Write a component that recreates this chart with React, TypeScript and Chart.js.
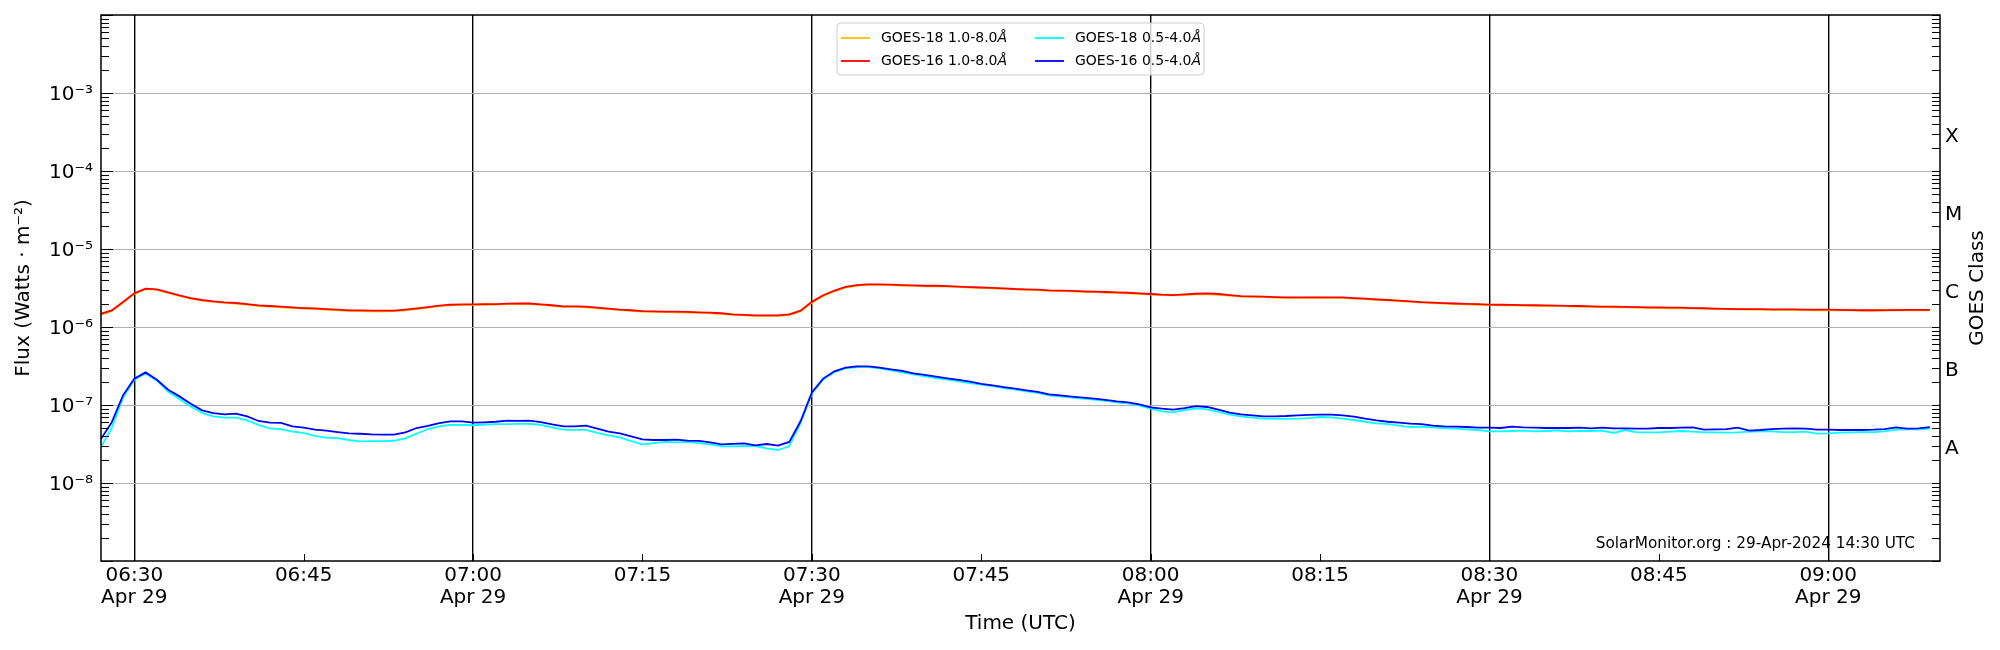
import React, { useEffect, useRef } from 'react';
import { Chart, registerables } from 'chart.js';

Chart.register(...registerables);

// GOES X-ray flux, 1-minute cadence, minutes after 06:30 UTC on 29 Apr 2024 (06:27 .. 09:09)
const FIRST_MINUTE = -3;
const minutes = Array.from({ length: 163 }, (_, i) => FIRST_MINUTE + i);

// long channel 1.0-8.0 Å, units of 1e-6 W/m²
const goes16Long = [
  1.47, 1.63, 2.09, 2.70, 3.10, 3.03, 2.78, 2.54, 2.35, 2.22, 2.13, 2.07, 2.03, 1.97, 1.89, 1.86, 1.82,
  1.78, 1.75, 1.73, 1.70, 1.67, 1.63, 1.63, 1.62, 1.62, 1.62, 1.67, 1.73, 1.80, 1.88, 1.93, 1.95,
  1.95, 1.96, 1.97, 1.99, 2.00, 2.00,
  1.95, 1.90, 1.84, 1.84, 1.82, 1.77, 1.72, 1.67, 1.64, 1.60, 1.59, 1.57, 1.57, 1.56, 1.54, 1.53, 1.50,
  1.45, 1.43, 1.41, 1.41, 1.41, 1.45, 1.62, 2.10, 2.55, 2.92, 3.26, 3.45, 3.52, 3.52, 3.49, 3.45, 3.42,
  3.38, 3.38, 3.34, 3.30, 3.25,
  3.21, 3.17, 3.13, 3.07, 3.04, 3.01, 2.95, 2.92, 2.90, 2.87, 2.84, 2.81, 2.78, 2.75, 2.70, 2.65, 2.60,
  2.57, 2.62, 2.67, 2.70, 2.65, 2.57, 2.49, 2.47, 2.45, 2.42, 2.40, 2.40, 2.40, 2.40, 2.40, 2.40, 2.35,
  2.31, 2.26, 2.22, 2.18, 2.13,
  2.08, 2.05, 2.02, 2.00, 1.98, 1.96, 1.94, 1.93, 1.92, 1.91, 1.90, 1.89, 1.88, 1.87, 1.86, 1.84, 1.83,
  1.82, 1.81, 1.80, 1.79, 1.78, 1.77, 1.77, 1.75, 1.74, 1.72, 1.71, 1.70, 1.69, 1.69, 1.68, 1.68, 1.68,
  1.67, 1.67, 1.67, 1.66, 1.65, 1.64, 1.64, 1.65, 1.65, 1.66, 1.66, 1.66,
];

const goes18Long = [
  1.44, 1.60, 2.05, 2.66, 3.05, 2.99, 2.74, 2.50, 2.31, 2.18, 2.10, 2.04, 2.00, 1.94, 1.86, 1.83, 1.79,
  1.75, 1.72, 1.70, 1.67, 1.64, 1.61, 1.60, 1.59, 1.59, 1.60, 1.64, 1.70, 1.77, 1.85, 1.90, 1.92,
  1.92, 1.93, 1.94, 1.96, 1.97, 1.97,
  1.92, 1.87, 1.81, 1.81, 1.79, 1.74, 1.69, 1.65, 1.61, 1.58, 1.56, 1.55, 1.54, 1.53, 1.52, 1.50, 1.47,
  1.43, 1.41, 1.39, 1.39, 1.39, 1.42, 1.58, 2.05, 2.50, 2.87, 3.21, 3.40, 3.47, 3.47, 3.44, 3.40, 3.37,
  3.33, 3.33, 3.30, 3.26, 3.21,
  3.17, 3.13, 3.09, 3.03, 3.00, 2.97, 2.91, 2.88, 2.86, 2.83, 2.80, 2.77, 2.74, 2.71, 2.66, 2.61, 2.56,
  2.54, 2.57, 2.63, 2.63, 2.59, 2.53, 2.45, 2.43, 2.41, 2.38, 2.36, 2.36, 2.37, 2.37, 2.36, 2.36, 2.32,
  2.28, 2.23, 2.19, 2.15, 2.10,
  2.05, 2.02, 1.99, 1.97, 1.95, 1.93, 1.91, 1.90, 1.89, 1.88, 1.87, 1.86, 1.85, 1.84, 1.83, 1.81, 1.80,
  1.79, 1.78, 1.77, 1.76, 1.75, 1.74, 1.74, 1.73, 1.72, 1.70, 1.69, 1.68, 1.67, 1.67, 1.66, 1.66, 1.65,
  1.65, 1.64, 1.64, 1.63, 1.63, 1.62, 1.62, 1.62, 1.63, 1.63, 1.64, 1.64,
];

// short channel 0.5-4.0 Å, units of 1e-8 W/m²
const goes16Short = [
  3.59, 5.98, 13.3, 21.7, 26.2, 21.1, 15.7, 12.9, 10.4, 8.54, 7.89, 7.58, 7.75, 7.15, 6.24, 5.93, 5.90,
  5.32, 5.12, 4.82, 4.68, 4.50, 4.32, 4.28, 4.20, 4.17, 4.17, 4.47, 5.07, 5.40, 5.87, 6.15, 6.15,
  5.93, 6.00, 6.10, 6.30, 6.27, 6.30,
  6.05, 5.65, 5.33, 5.33, 5.43, 4.98, 4.55, 4.33, 3.96, 3.63, 3.56, 3.56, 3.60, 3.49, 3.46, 3.32, 3.13,
  3.18, 3.22, 3.04, 3.16, 3.02, 3.36, 6.18, 14.5, 21.8, 27.0, 30.1, 31.3, 31.3, 30.1, 28.6, 27.3, 25.5,
  24.3, 23.1, 22.0, 21.0, 19.9,
  18.6, 17.9, 17.0, 16.2, 15.4, 14.7, 13.7, 13.3, 12.8, 12.4, 12.1, 11.6, 11.1, 10.8, 10.2, 9.33, 8.97,
  8.71, 9.14, 9.70, 9.43, 8.71, 7.98, 7.60, 7.38, 7.16, 7.16, 7.23, 7.38, 7.45, 7.53, 7.53, 7.38, 7.09,
  6.68, 6.35, 6.10, 5.93, 5.77,
  5.70, 5.43, 5.32, 5.27, 5.22, 5.12, 5.12, 5.07, 5.27, 5.16, 5.12, 5.07, 5.07, 5.07, 5.12, 5.02, 5.12,
  5.02, 5.02, 4.98, 4.98, 5.07, 5.07, 5.12, 5.16, 4.83, 4.88, 4.92, 5.12, 4.69, 4.78, 4.92, 4.98, 5.02,
  4.98, 4.83, 4.83, 4.78, 4.78, 4.78, 4.83, 4.92, 5.16, 4.98, 5.02, 5.22,
];

const goes18Short = [
  2.81, 5.07, 12.3, 21.1, 25.4, 20.5, 14.9, 11.9, 9.60, 7.89, 7.15, 6.87, 6.87, 6.35, 5.55, 5.01, 4.90,
  4.55, 4.40, 4.03, 3.81, 3.75, 3.56, 3.42, 3.45, 3.45, 3.48, 3.73, 4.28, 4.92, 5.32, 5.55, 5.55,
  5.50, 5.60, 5.67, 5.70, 5.72, 5.75,
  5.55, 5.18, 4.83, 4.80, 4.80, 4.38, 4.08, 3.85, 3.45, 3.13, 3.24, 3.36, 3.32, 3.36, 3.24, 3.13, 2.95,
  2.95, 2.98, 2.98, 2.78, 2.65, 2.95, 5.87, 14.0, 21.3, 26.3, 29.6, 30.7, 30.7, 29.6, 27.9, 26.3, 24.7,
  23.3, 22.2, 21.2, 20.1, 19.1,
  18.2, 17.5, 16.5, 15.7, 15.0, 14.3, 13.3, 12.9, 12.4, 12.1, 11.7, 11.3, 10.8, 10.5, 9.88, 8.97, 8.30,
  8.06, 8.58, 9.05, 8.79, 8.14, 7.53, 7.16, 6.90, 6.68, 6.62, 6.62, 6.68, 6.80, 7.02, 6.95, 6.68, 6.42,
  6.10, 5.80, 5.67, 5.43, 5.22,
  5.27, 5.16, 5.07, 4.98, 4.88, 4.78, 4.59, 4.59, 4.64, 4.69, 4.59, 4.64, 4.73, 4.59, 4.64, 4.64, 4.69,
  4.38, 4.78, 4.50, 4.46, 4.46, 4.55, 4.64, 4.55, 4.46, 4.46, 4.42, 4.46, 4.55, 4.59, 4.59, 4.50, 4.50,
  4.55, 4.29, 4.33, 4.42, 4.46, 4.50, 4.50, 4.59, 4.83, 4.88, 4.88, 4.98,
];

const LABEL_18_LONG = 'GOES-18 1.0-8.0Å';
const LABEL_16_LONG = 'GOES-16 1.0-8.0Å';
const LABEL_18_SHORT = 'GOES-18 0.5-4.0Å';
const LABEL_16_SHORT = 'GOES-16 0.5-4.0Å';
const legendRows = [
  [LABEL_18_LONG, LABEL_18_SHORT],
  [LABEL_16_LONG, LABEL_16_SHORT],
];

const xTickMinutes = [0, 15, 30, 45, 60, 75, 90, 105, 120, 135, 150];
const xTickLabels = [
  ['06:30', 'Apr 29'], '06:45', ['07:00', 'Apr 29'], '07:15', ['07:30', 'Apr 29'], '07:45',
  ['08:00', 'Apr 29'], '08:15', ['08:30', 'Apr 29'], '08:45', ['09:00', 'Apr 29'],
];
const fluxTickValues = [1e-8, 1e-7, 1e-6, 1e-5, 1e-4, 1e-3];
const fluxTickLabels = ['10⁻⁸', '10⁻⁷', '10⁻⁶', '10⁻⁵', '10⁻⁴', '10⁻³'];
const classTickValues = [10 ** -7.5, 10 ** -6.5, 10 ** -5.5, 10 ** -4.5, 10 ** -3.5];
const classLabels = ['A', 'B', 'C', 'M', 'X'];

const FLUX_MIN = 1e-9;
const FLUX_MAX = 1e-2;
const FONT = "'DejaVu Sans', sans-serif";

const toPoints = (vals: number[], unit: number) => minutes.map((m, i) => ({ x: m, y: vals[i] * unit }));

// inward ticks and the axes frame, like matplotlib with direction='in'
const frameTicks = {
  id: 'frameTicks',
  afterDatasetsDraw(chart: any) {
    const { ctx, chartArea, scales } = chart;
    const { left, right, top, bottom } = chartArea;
    const y = scales.y;
    const x = scales.x;
    ctx.save();
    ctx.strokeStyle = '#000';
    ctx.lineWidth = 1;
    ctx.beginPath();
    for (let k = -9; k <= -2; k++) {
      for (let m = 1; m <= 9; m++) {
        const v = m * Math.pow(10, k);
        if (v < FLUX_MIN || v > FLUX_MAX) continue;
        const py = Math.round(y.getPixelForValue(v)) + 0.5;
        ctx.moveTo(left, py);
        ctx.lineTo(left + (m === 1 ? 12 : 8), py);
        ctx.moveTo(right, py);
        ctx.lineTo(right - 8, py);
      }
    }
    xTickMinutes.forEach((v) => {
      const px = Math.round(x.getPixelForValue(v)) + 0.5;
      ctx.moveTo(px, bottom);
      ctx.lineTo(px, bottom - 7);
    });
    ctx.stroke();
    ctx.lineWidth = 1.5;
    ctx.strokeRect(left, top, right - left, bottom - top);
    ctx.restore();
  },
};

// two-column legend box at upper centre, plus right-hand title and footer stamp
const goesDecor = {
  id: 'goesDecor',
  afterDraw(chart: any) {
    const { ctx, chartArea } = chart;
    const { left, right, top, bottom } = chartArea;
    ctx.save();

    const w = 367;
    const h = 52;
    const x0 = (left + right) / 2 - w / 2;
    const y0 = top + 8;
    ctx.beginPath();
    ctx.roundRect(x0, y0, w, h, 4);
    ctx.fillStyle = 'rgba(255,255,255,0.8)';
    ctx.fill();
    ctx.strokeStyle = '#cccccc';
    ctx.lineWidth = 1;
    ctx.stroke();

    legendRows.forEach((row, r) => {
      row.forEach((label, c) => {
        const ds = chart.data.datasets.find((d: any) => d.label === label);
        const ly = y0 + 15 + r * 23;
        const lx = x0 + 4 + c * 194;
        ctx.beginPath();
        ctx.strokeStyle = ds.borderColor;
        ctx.lineWidth = ds.borderWidth;
        ctx.moveTo(lx, ly);
        ctx.lineTo(lx + 29, ly);
        ctx.stroke();
        const plain = label.slice(0, -1);
        ctx.fillStyle = '#000';
        ctx.textBaseline = 'middle';
        ctx.textAlign = 'left';
        ctx.font = `14px ${FONT}`;
        ctx.fillText(plain, lx + 40, ly);
        const pw = ctx.measureText(plain).width;
        ctx.font = `italic 14px ${FONT}`;
        ctx.fillText(label.slice(-1), lx + 40 + pw, ly);
      });
    });

    ctx.fillStyle = '#000';
    ctx.font = `20px ${FONT}`;
    ctx.textAlign = 'center';
    ctx.textBaseline = 'middle';
    ctx.translate(right + 37.5, (top + bottom) / 2);
    ctx.rotate(-Math.PI / 2);
    ctx.fillText('GOES Class', 0, 0);
    ctx.setTransform(1, 0, 0, 1, 0, 0);
    ctx.restore();

    ctx.save();
    ctx.fillStyle = '#000';
    ctx.font = `15.3px ${FONT}`;
    ctx.textAlign = 'right';
    ctx.textBaseline = 'middle';
    ctx.fillText('SolarMonitor.org : 29-Apr-2024 14:30 UTC', right - 25, bottom - 17);
    ctx.restore();
  },
};

const GoesChart: React.FC = () => {
  const canvasRef = useRef<HTMLCanvasElement>(null);

  useEffect(() => {
    if (!canvasRef.current) return;
    const line = { borderWidth: 1.8, pointRadius: 0, fill: false, tension: 0, yAxisID: 'y' };
    const chart = new Chart(canvasRef.current, {
      type: 'line',
      data: {
        datasets: [
          { ...line, label: LABEL_16_SHORT, data: toPoints(goes16Short, 1e-8), borderColor: '#0000ff' },
          { ...line, label: LABEL_18_SHORT, data: toPoints(goes18Short, 1e-8), borderColor: '#00ffff' },
          { ...line, label: LABEL_16_LONG, data: toPoints(goes16Long, 1e-6), borderColor: '#ff0000' },
          { ...line, label: LABEL_18_LONG, data: toPoints(goes18Long, 1e-6), borderColor: '#ffc000' },
        ],
      },
      options: {
        animation: false,
        responsive: false,
        events: [],
        layout: { padding: { top: 15, left: 0, right: 0, bottom: 0 } },
        font: { family: FONT },
        plugins: { legend: { display: false }, tooltip: { enabled: false } },
        scales: {
          x: {
            type: 'linear',
            min: -2.95,
            max: 159.9,
            afterBuildTicks: (s: any) => {
              s.ticks = xTickMinutes.map((value) => ({ value }));
            },
            afterFit: (s: any) => {
              s.height = 89;
            },
            ticks: {
              callback: (_v: any, i: number) => xTickLabels[i],
              font: { family: FONT, size: 20, lineHeight: 1.08 },
              color: '#000',
              padding: 4,
              maxRotation: 0,
              autoSkip: false,
            },
            grid: {
              color: (c: any) => (c.tick && c.tick.value % 30 === 0 ? '#000000' : 'rgba(0,0,0,0)'),
              lineWidth: 1.4,
              drawTicks: false,
            },
            border: { display: false },
            title: {
              display: true,
              text: 'Time (UTC)',
              color: '#000',
              font: { family: FONT, size: 20, lineHeight: 1.2 },
              padding: { top: 0, bottom: 14 },
            },
          },
          y: {
            type: 'logarithmic',
            position: 'left',
            min: FLUX_MIN,
            max: FLUX_MAX,
            afterBuildTicks: (s: any) => {
              s.ticks = fluxTickValues.map((value) => ({ value }));
            },
            afterFit: (s: any) => {
              s.width = 101;
            },
            ticks: {
              callback: (_v: any, i: number) => fluxTickLabels[i],
              font: { family: FONT, size: 20, lineHeight: 0.7 },
              color: '#000',
              padding: 8,
              labelOffset: 2,
            },
            grid: { color: '#b0b0b0', lineWidth: 1, drawTicks: false },
            border: { display: false },
            title: {
              display: true,
              text: 'Flux (Watts · m⁻²)',
              color: '#000',
              font: { family: FONT, size: 20, lineHeight: 1.2 },
              padding: { top: 12, bottom: 0 },
            },
          },
          y2: {
            type: 'logarithmic',
            position: 'right',
            min: FLUX_MIN,
            max: FLUX_MAX,
            afterBuildTicks: (s: any) => {
              s.ticks = classTickValues.map((value) => ({ value }));
            },
            afterFit: (s: any) => {
              s.width = 60;
            },
            ticks: {
              callback: (_v: any, i: number) => classLabels[i],
              font: { family: FONT, size: 20, lineHeight: 0.7 },
              color: '#000',
              padding: 5,
              labelOffset: 4.5,
            },
            grid: { display: false, drawTicks: false },
            border: { display: false },
          },
        },
      } as any,
      plugins: [frameTicks, goesDecor],
    });

    return () => {
      chart.destroy();
    };
  }, []);

  return (
    <div style={{ position: 'absolute', left: 0, top: 0, width: 2000, height: 650, background: '#fff' }}>
      <canvas ref={canvasRef} width={2000} height={650} style={{ display: 'block', width: 2000, height: 650 }} />
    </div>
  );
};

export default function App() {
  return <GoesChart />;
}
